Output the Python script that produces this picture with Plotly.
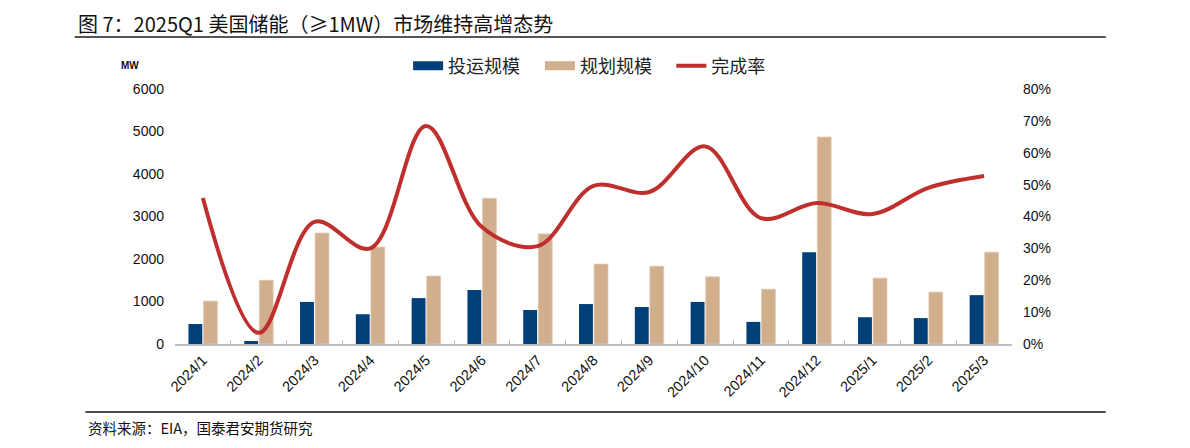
import plotly.graph_objects as go

months = ["2024/1", "2024/2", "2024/3", "2024/4", "2024/5", "2024/6", "2024/7", "2024/8",
          "2024/9", "2024/10", "2024/11", "2024/12", "2025/1", "2025/2", "2025/3"]
operational = [470, 70, 990, 700, 1080, 1270, 800, 940, 870, 990, 520, 2160, 630, 610, 1150]
planned = [1010, 1500, 2610, 2280, 1600, 3430, 2590, 1880, 1830, 1580, 1290, 4870, 1550, 1220, 2160]
completion = [0.458, 0.035, 0.383, 0.300, 0.684, 0.367, 0.307, 0.496, 0.477, 0.620, 0.395, 0.442, 0.408, 0.490, 0.527]

left_ticks = [0, 1000, 2000, 3000, 4000, 5000, 6000]
right_ticks = [0, 0.1, 0.2, 0.3, 0.4, 0.5, 0.6, 0.7, 0.8]

CJK = "Noto Sans CJK SC"
NUM = "Liberation Sans, Arial"
BLUE = "#003F78"
TAN = "#D1AF8C"
RED = "#BE2F2D"

fig = go.Figure()
fig.add_trace(go.Bar(x=months, y=operational, name="投运规模", marker_color=BLUE,
                     marker_line_width=0, showlegend=False))
fig.add_trace(go.Bar(x=months, y=planned, name="规划规模", marker_color=TAN,
                     marker_line_color="#E2CCB4", marker_line_width=0.8, showlegend=False))
fig.add_trace(go.Scatter(x=months, y=completion, name="完成率", yaxis="y2", mode="lines",
                         line=dict(color=RED, width=4, shape="spline", smoothing=1.0),
                         showlegend=False))
# legend entries (wide rectangles like the reference), one legend per item
fig.add_trace(go.Scatter(x=[None], y=[None], name="投运规模", mode="lines",
                         line=dict(color=BLUE, width=9), legend="legend"))
fig.add_trace(go.Scatter(x=[None], y=[None], name="规划规模", mode="lines",
                         line=dict(color=TAN, width=9), legend="legend2"))
fig.add_trace(go.Scatter(x=[None], y=[None], name="完成率", mode="lines",
                         line=dict(color=RED, width=4), legend="legend3"))

leg_common = dict(orientation="h", y=1.09, yanchor="middle", xanchor="left",
                  font=dict(family=CJK, size=18, color="#222"), bgcolor="rgba(0,0,0,0)")

# the page body adds an 8px offset, so margins are shifted by -8px
fig.update_layout(
    width=1190, height=448,
    margin=dict(l=167, r=186, t=81, b=112, autoexpand=False),
    paper_bgcolor="white", plot_bgcolor="white",
    barmode="group", bargap=0.46, bargroupgap=0.08,
    showlegend=True,
    legend=dict(x=0.2785, **leg_common),
    legend2=dict(x=0.4360, **leg_common),
    legend3=dict(x=0.5930, **leg_common),
    xaxis=dict(type="category", tickangle=-45, tickfont=dict(family=NUM, size=14.5, color="#111"),
               showline=True, linecolor="#BFBFBF", linewidth=2, ticks="inside",
               tickson="boundaries", ticklen=4, tickcolor="#BFBFBF", showgrid=False),
    yaxis=dict(range=[0, 6000], tickvals=left_ticks, showgrid=False, zeroline=False,
               tickfont=dict(family=NUM, size=14, color="#111"), ticks="", showline=False,
               ticklabelstandoff=10),
    yaxis2=dict(range=[0, 0.8], tickvals=right_ticks, tickformat=".0%", overlaying="y",
                side="right", showgrid=False, zeroline=False,
                tickfont=dict(family=NUM, size=14, color="#111"), ticks="", showline=False,
                ticklabelstandoff=10),
    font=dict(family=CJK),
)

fig.add_annotation(text="图 7：2025Q1 美国储能（≥1MW）市场维持高增态势", xref="paper", yref="paper",
                   x=-0.117, y=1.3157, xanchor="left", yanchor="top", showarrow=False,
                   borderpad=0, font=dict(family=CJK, size=20, color="#111"))
fig.add_shape(type="line", xref="paper", yref="paper", x0=-0.120, x1=1.112, y0=1.204, y1=1.204,
              line=dict(color="#555", width=2))
fig.add_shape(type="line", xref="paper", yref="paper", x0=-0.107, x1=1.112, y0=-0.267, y1=-0.267,
              line=dict(color="#111", width=1.5))
fig.add_annotation(text="资料来源：EIA，国泰君安期货研究", xref="paper", yref="paper",
                   x=-0.106, y=-0.329, xanchor="left", yanchor="middle", showarrow=False,
                   font=dict(family=CJK, size=14.5, color="#111"))
fig.add_annotation(text="<b>MW</b>", xref="paper", yref="paper", x=-0.054, y=1.094,
                   xanchor="center", yanchor="middle", showarrow=False,
                   font=dict(family=NUM, size=10, color="#111"))

fig.write_html("out.html")
